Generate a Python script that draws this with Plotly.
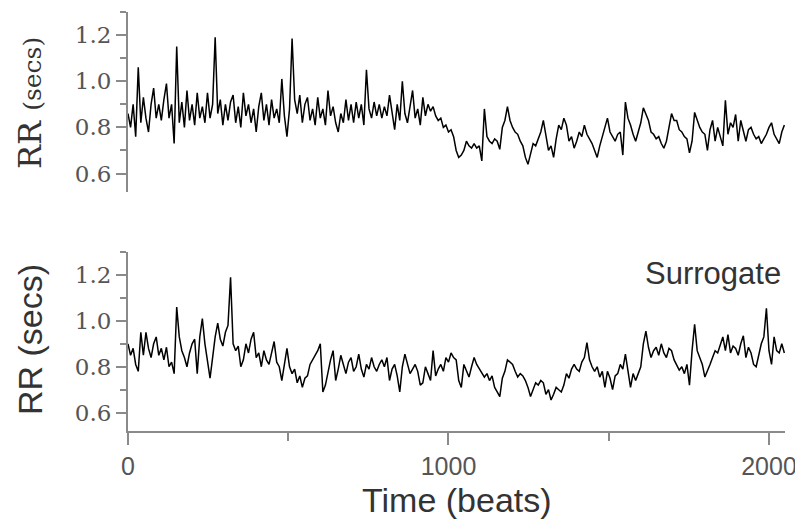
import plotly.graph_objects as go

rr_original = [
    0.86, 0.80, 0.90, 0.76, 1.06, 0.82, 0.93, 0.84, 0.78, 0.90,
    0.97, 0.84, 0.90, 0.83, 0.92, 0.99, 0.84, 0.90, 0.73, 1.15,
    0.82, 0.91, 0.80, 0.96, 0.83, 0.90, 0.81, 0.95, 0.84, 0.89,
    0.82, 0.95, 0.84, 0.90, 1.19, 0.86, 0.92, 0.81, 0.90, 0.83,
    0.91, 0.94, 0.82, 0.89, 0.80, 0.95, 0.85, 0.90, 0.82, 0.88,
    0.78, 0.89, 0.95, 0.83, 0.90, 0.81, 0.92, 0.84, 0.88, 0.82,
    1.01, 0.85, 0.76, 0.88, 1.185, 0.92, 0.86, 0.94, 0.82, 0.90,
    0.93, 0.83, 0.88, 0.81, 0.93, 0.84, 0.88, 0.81, 0.96, 0.85,
    0.89, 0.82, 0.78, 0.86, 0.82, 0.92, 0.83, 0.90, 0.82, 0.91,
    0.84, 0.90, 0.81, 1.05, 0.88, 0.84, 0.91, 0.85, 0.90, 0.84,
    0.89, 0.85, 0.94, 0.86, 0.79, 0.90, 0.83, 1.00, 0.86, 0.82,
    0.90, 0.96, 0.84, 0.88, 0.81, 0.93, 0.85, 0.90, 0.87, 0.89,
    0.85, 0.83, 0.84, 0.80, 0.81, 0.78, 0.79, 0.76, 0.70, 0.67,
    0.68, 0.70, 0.74, 0.72, 0.71, 0.73, 0.71, 0.72, 0.655, 0.88,
    0.76, 0.74, 0.73, 0.75, 0.74, 0.705, 0.80, 0.83, 0.89, 0.83,
    0.80, 0.78, 0.77, 0.74, 0.72, 0.67, 0.64, 0.69, 0.73, 0.72,
    0.75, 0.78, 0.83, 0.76, 0.70, 0.72, 0.67, 0.75, 0.81, 0.79,
    0.84, 0.81, 0.74, 0.76, 0.71, 0.74, 0.78, 0.76, 0.81, 0.77,
    0.75, 0.73, 0.70, 0.67, 0.72, 0.76, 0.80, 0.84, 0.78, 0.76,
    0.74, 0.77, 0.78, 0.68, 0.91, 0.84, 0.81, 0.77, 0.74, 0.78,
    0.82, 0.885, 0.86, 0.83, 0.78, 0.77, 0.75, 0.76, 0.73, 0.71,
    0.74, 0.80, 0.86, 0.83, 0.83, 0.79, 0.78, 0.76, 0.75, 0.69,
    0.74, 0.865, 0.83, 0.80, 0.78, 0.77, 0.70, 0.79, 0.83, 0.74,
    0.80, 0.76, 0.72, 0.917, 0.77, 0.82, 0.80, 0.856, 0.74, 0.83,
    0.78, 0.74, 0.79, 0.80, 0.77, 0.75, 0.76, 0.73, 0.75, 0.77,
    0.80, 0.82, 0.77, 0.75, 0.73, 0.78, 0.81,
]

rr_surrogate = [
    0.90, 0.85, 0.88, 0.81, 0.78, 0.95, 0.85, 0.95, 0.88, 0.84,
    0.90, 0.93, 0.85, 0.88, 0.83, 0.885, 0.80, 0.82, 0.77, 1.06,
    0.93, 0.87, 0.84, 0.80, 0.86, 0.90, 0.92, 0.77, 0.93, 1.01,
    0.90, 0.82, 0.75, 0.84, 0.93, 0.99, 0.92, 0.89, 0.95, 0.98,
    1.19, 0.90, 0.87, 0.89, 0.80, 0.83, 0.90, 0.86, 0.92, 0.95,
    0.84, 0.86, 0.80, 0.87, 0.83, 0.81, 0.86, 0.91, 0.82, 0.80,
    0.74, 0.82, 0.88, 0.80, 0.77, 0.79, 0.73, 0.76, 0.71, 0.75,
    0.76, 0.81, 0.83, 0.85, 0.87, 0.90, 0.69, 0.72, 0.78, 0.83,
    0.87, 0.74, 0.79, 0.85, 0.81, 0.77, 0.82, 0.84, 0.78, 0.80,
    0.855, 0.79, 0.755, 0.81, 0.79, 0.84, 0.80, 0.78, 0.81, 0.83,
    0.80, 0.84, 0.74, 0.79, 0.81, 0.76, 0.69, 0.80, 0.855, 0.81,
    0.77, 0.79, 0.81, 0.78, 0.72, 0.73, 0.80, 0.77, 0.74, 0.87,
    0.76, 0.79, 0.81, 0.78, 0.84, 0.82, 0.86, 0.84, 0.83, 0.74,
    0.71, 0.81, 0.78, 0.755, 0.80, 0.84, 0.81, 0.79, 0.77, 0.755,
    0.77, 0.74, 0.76, 0.71, 0.69, 0.67, 0.75, 0.78, 0.83, 0.82,
    0.81, 0.78, 0.755, 0.77, 0.76, 0.74, 0.71, 0.67, 0.70, 0.73,
    0.72, 0.74, 0.73, 0.68, 0.70, 0.655, 0.68, 0.71, 0.70, 0.69,
    0.72, 0.77, 0.75, 0.79, 0.81, 0.79, 0.78, 0.82, 0.84, 0.905,
    0.83, 0.80, 0.78, 0.80, 0.755, 0.78, 0.71, 0.78, 0.75, 0.70,
    0.76, 0.77, 0.81, 0.79, 0.855, 0.78, 0.71, 0.77, 0.74, 0.77,
    0.80, 0.90, 0.955, 0.885, 0.84, 0.87, 0.885, 0.85, 0.90, 0.86,
    0.84, 0.88, 0.87, 0.83, 0.81, 0.785, 0.80, 0.77, 0.81, 0.72,
    0.87, 0.985, 0.87, 0.84, 0.81, 0.755, 0.78, 0.81, 0.84, 0.87,
    0.86, 0.90, 0.93, 0.87, 0.94, 0.86, 0.89, 0.88, 0.85, 0.90,
    0.935, 0.84, 0.885, 0.86, 0.81, 0.80, 0.855, 0.90, 0.93, 1.055,
    0.87, 0.81, 0.93, 0.87, 0.86, 0.90, 0.86,
]

sample_step = 8
beats = [i * sample_step for i in range(len(rr_original))]

y_major = [0.6, 0.8, 1.0, 1.2]
y_major_labels = ["0.6", "0.8", "1.0", "1.2"]
y_minor = [0.7, 0.9, 1.1, 1.3]
x_major = [0, 1000, 2000]
x_major_labels = ["0", "1000", "2000"]
x_minor = [500, 1500]

AX = "#8a8a8a"
TICKC = "#555555"
SERIF = "DejaVu Serif, Liberation Serif, serif"
SANS = "Liberation Sans, Arial, Helvetica, sans-serif"

fig = go.Figure()
fig.add_trace(go.Scatter(x=beats, y=rr_original, mode="lines",
                         line=dict(color="black", width=1.5),
                         xaxis="x", yaxis="y", showlegend=False))
fig.add_trace(go.Scatter(x=beats, y=rr_surrogate, mode="lines",
                         line=dict(color="black", width=1.5),
                         xaxis="x2", yaxis="y2", showlegend=False))

yaxis_common = dict(
    range=[0.52, 1.30], showline=True, linecolor=AX, linewidth=2,
    ticks="outside", ticklen=10, tickwidth=2, tickcolor=AX,
    tickvals=y_major, ticktext=y_major_labels,
    minor=dict(tickvals=y_minor, ticks="outside", ticklen=6, tickwidth=2, tickcolor=AX),
    tickfont=dict(family=SERIF, size=23, color=TICKC),
    showgrid=False, zeroline=False, fixedrange=True,
)

# page body has an 8px margin, so the figure is 8px smaller than the window
fig.update_layout(
    width=795, height=512,
    margin=dict(l=120, r=18, t=4, b=89),
    paper_bgcolor="white", plot_bgcolor="white",
    xaxis=dict(domain=[0, 1], anchor="y", range=[0, 2050], visible=False),
    yaxis=dict(domain=[0.5704, 1], anchor="x", **yaxis_common),
    xaxis2=dict(
        domain=[0, 1], anchor="y2", range=[0, 2050],
        showline=True, linecolor=AX, linewidth=2,
        ticks="outside", ticklen=12, tickwidth=2, tickcolor=AX,
        tickvals=x_major, ticktext=x_major_labels,
        minor=dict(tickvals=x_minor, ticks="outside", ticklen=8, tickwidth=2, tickcolor=AX),
        tickfont=dict(family=SANS, size=25, color=TICKC),
        showgrid=False, zeroline=False,
    ),
    yaxis2=dict(domain=[0, 0.4272], anchor="x2", **yaxis_common),
    annotations=[
        dict(text="RR <span style='font-size:25px'>(secs)</span>", xref="paper", yref="paper",
             x=-0.149, y=0.7828, xanchor="center", yanchor="middle", textangle=-90,
             showarrow=False, font=dict(family=SERIF, size=32, color="#333")),
        dict(text="RR (secs)", xref="paper", yref="paper",
             x=-0.149, y=0.2172, xanchor="center", yanchor="middle", textangle=-90,
             showarrow=False, font=dict(family=SANS, size=34, color="#333")),
        dict(text="Time (beats)", xref="paper", yref="paper",
             x=0.5, y=-0.1647, xanchor="center", yanchor="middle",
             showarrow=False, font=dict(family=SANS, size=34, color="#333")),
        dict(text="Surrogate", xref="paper", yref="paper",
             x=0.997, y=0.377, xanchor="right", yanchor="middle",
             showarrow=False, font=dict(family=SANS, size=31, color="#333")),
    ],
)

fig.write_html("out.html")
